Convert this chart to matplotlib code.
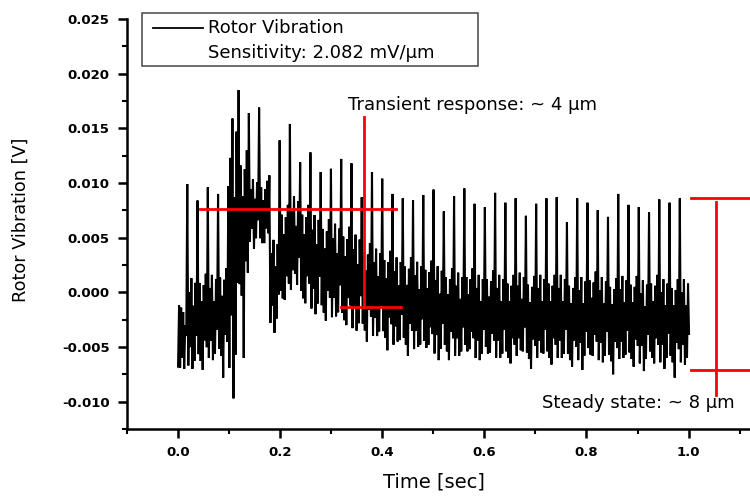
import numpy as np
import matplotlib
matplotlib.use("Agg")
import matplotlib.pyplot as plt
from matplotlib.ticker import MultipleLocator, FuncFormatter
from matplotlib.patches import Rectangle
from matplotlib.lines import Line2D

plt.rcParams['font.family'] = ['DejaVu Sans']

# ---------------- data ----------------
sample_dt = 0.00201          # seconds between samples
lead_in = [-0.0068, -0.0012, -0.0069, -0.0014, -0.0060, -0.0018, -0.0070, -0.0030, -0.0040]

# one entry per shaft revolution (49 revolutions)
cycle_peak = [0.0099, 0.0084, 0.0096, 0.0090, 0.0097, 0.0185, 0.0164, 0.0169, 0.0107, 0.0139,
              0.0154, 0.0119, 0.0128, 0.0110, 0.0113, 0.0122, 0.0118, 0.0087, 0.0110, 0.0104,
              0.0090, 0.0086, 0.0084, 0.0089, 0.0094, 0.0074, 0.0088, 0.0095, 0.0081, 0.0078,
              0.0091, 0.0082, 0.0086, 0.0070, 0.0081, 0.0086, 0.0087, 0.0064, 0.0086, 0.0082,
              0.0075, 0.0069, 0.0090, 0.0080, 0.0078, 0.0073, 0.0085, 0.0082, 0.0086]
cycle_trough = [-0.0070, -0.0071, -0.0062, -0.0078, -0.0097, -0.0060, 0.0040, 0.0045, -0.0037, -0.0007,
                0.0017, -0.0010, -0.0020, -0.0026, -0.0022, -0.0030, -0.0035, -0.0045, -0.0040, -0.0053,
                -0.0045, -0.0058, -0.0050, -0.0048, -0.0062, -0.0062, -0.0058, -0.0052, -0.0062, -0.0055,
                -0.0060, -0.0065, -0.0053, -0.0070, -0.0055, -0.0066, -0.0060, -0.0068, -0.0071, -0.0058,
                -0.0064, -0.0075, -0.0060, -0.0068, -0.0072, -0.0065, -0.0070, -0.0078, -0.0066]
cycle_base = [-0.0027, -0.0025, -0.0022, -0.0020, 0.0045, 0.0060, 0.0075, 0.0072, 0.0010, 0.0035,
              0.0045, 0.0035, 0.0028, 0.0022, 0.0020, 0.0015, 0.0010, 0.0003, 0.0000, -0.0004,
              -0.0008, -0.0010, -0.0012, -0.0013, -0.0016, -0.0018, -0.0020, -0.0018, -0.0022, -0.0020,
              -0.0022, -0.0024, -0.0020, -0.0025, -0.0022, -0.0024, -0.0022, -0.0026, -0.0024, -0.0021,
              -0.0024, -0.0027, -0.0023, -0.0025, -0.0027, -0.0024, -0.0026, -0.0028, -0.0026]
cycle_band = [0.0042, 0.0042, 0.0040, 0.0042, 0.0120, 0.0070, 0.0030, 0.0030, 0.0040, 0.0045,
              0.0045, 0.0045, 0.0045, 0.0045, 0.0045, 0.0045, 0.0045, 0.0042, 0.0042, 0.0042,
              0.0042, 0.0042, 0.0042, 0.0042, 0.0042, 0.0040, 0.0040, 0.0040, 0.0040, 0.0040,
              0.0040, 0.0040, 0.0040, 0.0040, 0.0040, 0.0040, 0.0040, 0.0040, 0.0040, 0.0040,
              0.0040, 0.0040, 0.0040, 0.0040, 0.0040, 0.0040, 0.0040, 0.0040, 0.0040]
# within-revolution wiggle shapes (fraction of band) after each spike
shape_a = [-0.95, 0.65, -0.55, 0.95, None, 0.35, -0.85, 0.85, -0.30]
shape_b = [-0.75, 0.80, -0.90, 0.40, None, 0.75, -0.45, 1.00, -0.60]

# red marker lines
transient_top = 0.0076
transient_bottom = -0.0013
transient_t = 0.364
transient_top_span = [0.043, 0.427]
transient_bottom_span = [0.319, 0.437]
steady_top = 0.0086
steady_bottom = -0.0071
steady_t = 1.054
steady_span = [1.005, 1.13]
steady_vert = [0.0083, -0.0094]

x_ticks = [0.0, 0.2, 0.4, 0.6, 0.8, 1.0]
y_ticks = [-0.010, -0.005, 0.000, 0.005, 0.010, 0.015, 0.020, 0.025]

# ---------------- build the trace ----------------
signal = list(lead_in)
for k in range(len(cycle_peak)):
    shape = shape_a if k % 2 == 0 else shape_b
    signal.append(cycle_peak[k])
    for s in shape:
        if s is None:
            signal.append(cycle_trough[k])
        else:
            signal.append(cycle_base[k] + cycle_band[k] * s)
signal = np.array(signal)
time = np.arange(len(signal)) * sample_dt

# ---------------- figure ----------------
W, H = 750, 497
fig = plt.figure(figsize=(W / 100, H / 100), dpi=100)
ax = fig.add_axes([127 / W, 68 / H, 623 / W, 410 / H])

ax.plot(time, signal, color='black', lw=1.5, solid_joinstyle='miter')

red = '#ff0000'
ax.plot(transient_top_span, [transient_top, transient_top], color=red, lw=2)
ax.plot(transient_bottom_span, [transient_bottom, transient_bottom], color=red, lw=2)
ax.plot([transient_t, transient_t], [0.0160, transient_bottom], color=red, lw=2)
ax.plot(steady_span, [steady_top, steady_top], color=red, lw=2, clip_on=False)
ax.plot(steady_span, [steady_bottom, steady_bottom], color=red, lw=2, clip_on=False)
ax.plot([steady_t, steady_t], steady_vert, color=red, lw=2)

ax.set_xlim(-0.1, -0.1 + 623 / 510.5)
ax.set_ylim(-0.0125, 0.025)

for sp in ['top', 'right']:
    ax.spines[sp].set_visible(False)
for sp in ['left', 'bottom']:
    ax.spines[sp].set_linewidth(1.8)

ax.set_xticks(x_ticks)
ax.set_yticks(y_ticks)
ax.xaxis.set_minor_locator(MultipleLocator(0.1))
ax.yaxis.set_minor_locator(MultipleLocator(0.0025))
ax.xaxis.set_major_formatter(FuncFormatter(lambda v, p: f"{0.0 if abs(v) < 1e-9 else v:.1f}"))
ax.yaxis.set_major_formatter(FuncFormatter(lambda v, p: f"{0.0 if abs(v) < 1e-9 else v:.3f}"))
ax.tick_params(which='major', direction='out', length=6.5, width=1.8, labelsize=9.5, pad=6)
ax.tick_params(which='minor', direction='out', length=3.5, width=1.5)
for lab in ax.get_xticklabels() + ax.get_yticklabels():
    lab.set_fontweight('bold')

ax.set_xlabel('Time [sec]', fontsize=14)
ax.xaxis.set_label_coords((434 - 127) / 623, -(472 - 429) / 410)
ax.set_ylabel('Rotor Vibration [V]', fontsize=12.7)
ax.yaxis.set_label_coords(-(127 - 30) / 623, (429 - 220) / 410)

# annotations
def px(x, y):
    return x / W, 1 - y / H

fig.text(*px(348, 105), 'Transient response: ~ 4 \u03bcm', fontsize=13, va='center', ha='left')
fig.text(*px(542, 403), 'Steady state: ~ 8 \u03bcm', fontsize=13, va='center', ha='left')

# legend box
fig.patches.append(Rectangle(px(142, 66), (478 - 142) / W, (66 - 13) / H,
                             transform=fig.transFigure, fill=False, edgecolor='#555555', lw=1.2))
fig.lines.append(Line2D([153 / W, 203 / W], [1 - 28 / H, 1 - 28 / H], transform=fig.transFigure,
                        color='black', lw=1.3))
fig.text(*px(208, 28), 'Rotor Vibration', fontsize=13, va='center', ha='left')
fig.text(*px(208, 53), 'Sensitivity: 2.082 mV/\u03bcm', fontsize=13, va='center', ha='left')

fig.savefig('out.png', dpi=100)
